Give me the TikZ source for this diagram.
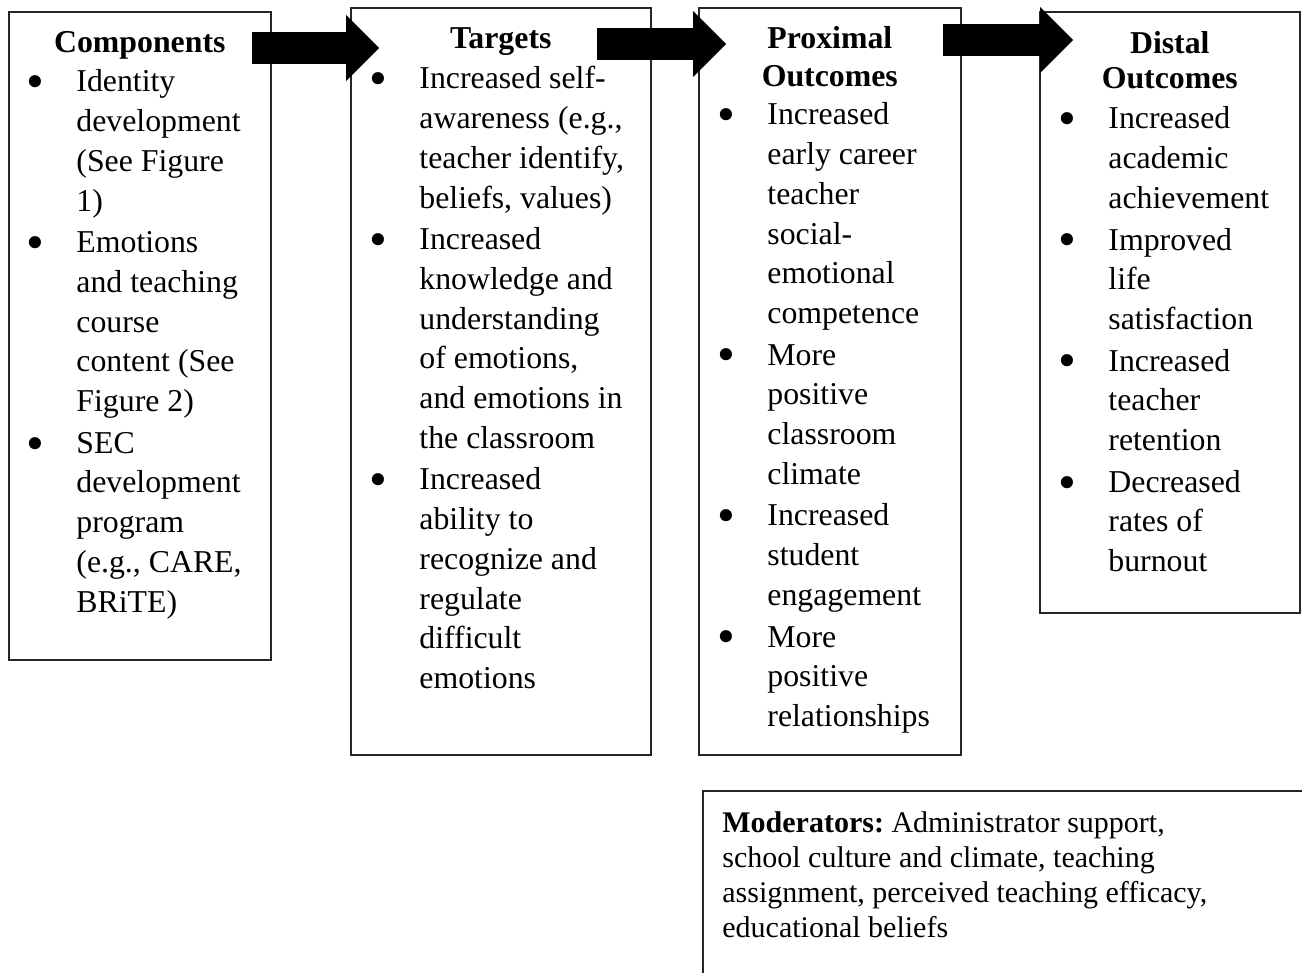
\documentclass[tikz,border=0pt]{standalone}
\usepackage{fontspec}
\setmainfont{Liberation Serif}
\usetikzlibrary{arrows.meta}

\newcommand{\itemfont}{\fontsize{15.9pt}{19.85pt}\selectfont\frenchspacing}
\newcommand{\modfont}{\fontsize{15pt}{17.5pt}\selectfont\frenchspacing}
\newcommand{\bul}{\makebox[5.57pt][c]{\raisebox{-3.4pt}{\scalebox{1.6}{\textbullet}}}}
\newcommand{\blist}[1]{\begin{tabular}[t]{@{}l@{\hspace{17.7pt}}l@{}}#1\end{tabular}}
\newcommand{\htitle}[1]{\begin{tabular}[t]{@{}c@{}}#1\end{tabular}}

\begin{document}
\begin{tikzpicture}[x=0.5pt, y=-0.5pt,
	stage/.style={draw=black!85, line width=0.8pt, inner sep=0pt, anchor=north west},
	head/.style={font=\itemfont\bfseries, anchor=base, inner sep=0pt},
	items/.style={font=\itemfont, anchor=base west, inner sep=0pt},
	bigarrow/.style={line width=16pt, -{Triangle[width=33pt, length=16.5pt, line width=0pt]}}]
	\clip (0,0) rectangle (1302,973);

	% the four stages
	\node[stage, minimum width=131pt, minimum height=324pt] (comp) at (8,11) {};
	\node[stage, minimum width=150pt, minimum height=373.5pt] (targ) at (350,7) {};
	\node[stage, minimum width=131pt, minimum height=373.5pt] (prox) at (698,7) {};
	\node[stage, minimum width=130pt, minimum height=300.5pt] (dist) at (1039,11) {};
	\node[stage, minimum width=320pt, minimum height=110pt] (mod) at (702,790) {};

	\node[head] (compT) at ([shift={(0,42)}]comp.north) {Components};
	\node[head] (targT) at ([shift={(0,42)}]targ.north) {Targets};
	\node[head] (proxT) at ([shift={(0,42)}]prox.north) {\htitle{Proximal\\[-1.2pt] Outcomes}};
	\node[head] (distT) at ([shift={(0,43)}]dist.north) {\htitle{Distal\\[-2.5pt] Outcomes}};

	\node[items] (compL) at ([shift={(21.5,81)}]comp.north west) {\blist{%
		\bul & Identity\\ & development\\ & (See Figure\\ & 1)\\[1pt]
		\bul & Emotions\\ & and teaching\\ & course\\ & content (See\\ & Figure 2)\\[1pt]
		\bul & SEC\\ & development\\ & program\\ & (e.g., CARE,\\ & BRiTE)}};
	\node[items] (targL) at ([shift={(22.5,82)}]targ.north west) {\blist{%
		\bul & Increased self-\\ & awareness (e.g.,\\ & teacher identify,\\ & beliefs, values)\\[1pt]
		\bul & Increased\\ & knowledge and\\ & understanding\\ & of emotions,\\ & and emotions in\\ & the classroom\\[1pt]
		\bul & Increased\\ & ability to\\ & recognize and\\ & regulate\\ & difficult\\ & emotions}};
	\node[items] (proxL) at ([shift={(22.5,118)}]prox.north west) {\blist{%
		\bul & Increased\\ & early career\\ & teacher\\ & social-\\ & emotional\\ & competence\\[1pt]
		\bul & More\\ & positive\\ & classroom\\ & climate\\[1pt]
		\bul & Increased\\ & student\\ & engagement\\[1pt]
		\bul & More\\ & positive\\ & relationships}};
	\node[items] (distL) at ([shift={(22.5,118)}]dist.north west) {\blist{%
		\bul & Increased\\ & academic\\ & achievement\\[1pt]
		\bul & Improved\\ & life\\ & satisfaction\\[1pt]
		\bul & Increased\\ & teacher\\ & retention\\[1pt]
		\bul & Decreased\\ & rates of\\ & burnout}};

	\node[items, font=\modfont] (modL) at (722,832) {\begin{tabular}[t]{@{}l@{}}%
		\textbf{Moderators:} Administrator support,\\
		school culture and climate, teaching\\
		assignment, perceived teaching efficacy,\\
		educational beliefs\end{tabular}};

	% block arrows
	\coordinate (a1s) at (252,48);
	\coordinate (a1e) at (379,48);
	\coordinate (a2s) at (597,44);
	\coordinate (a2e) at (726,44);
	\coordinate (a3s) at (943,40);
	\coordinate (a3e) at (1073,40);
	\draw[bigarrow] (a1s) -- (a1e);
	\draw[bigarrow] (a2s) -- (a2e);
	\draw[bigarrow] (a3s) -- (a3e);
\end{tikzpicture}
\end{document}
